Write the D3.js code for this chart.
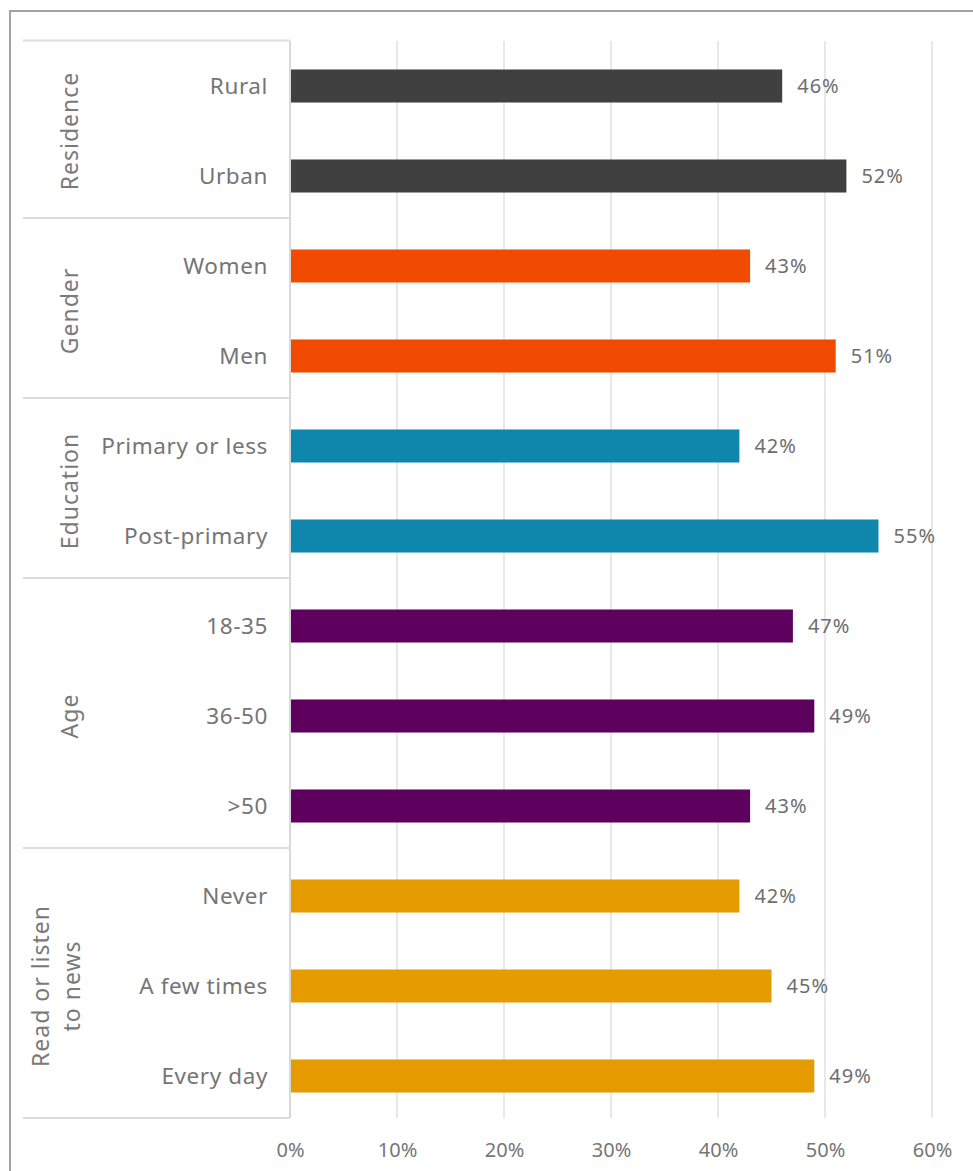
<!DOCTYPE html>
<html>
<head>
<meta charset="utf-8">
<script src="https://cdn.jsdelivr.net/npm/d3@7"></script>
<style>
  html, body { margin: 0; padding: 0; background: #fff; }
  svg { display: block; font-family: "Noto Sans", "DejaVu Sans", sans-serif; }
</style>
</head>
<body>
<svg id="chart" width="973" height="1171"></svg>
<script>
// Share of respondents by subgroup
const groups = ["Residence", "Gender", "Education", "Age", "Read or listen to news"];
const groupLines = [["Residence"], ["Gender"], ["Education"], ["Age"], ["Read or listen", "to news"]];
const groupColors = ["#404040", "#F04B00", "#0F87AD", "#5E005E", "#E59C00"];
const categories = ["Rural", "Urban", "Women", "Men", "Primary or less", "Post-primary",
                    "18-35", "36-50", ">50", "Never", "A few times", "Every day"];
const categoryGroup = [0, 0, 1, 1, 2, 2, 3, 3, 3, 4, 4, 4];
const values = [0.46, 0.52, 0.43, 0.51, 0.42, 0.55, 0.47, 0.49, 0.43, 0.42, 0.45, 0.49];
const tickValues = [0, 0.1, 0.2, 0.3, 0.4, 0.5, 0.6];

const svg = d3.select("#chart");

const plotLeft = 290, plotRight = 932, plotTop = 41, plotBottom = 1121;
const labelLeft = 23;

const x = d3.scaleLinear().domain([0, 0.6]).range([plotLeft, plotRight]);
const y = d3.scaleBand().domain(categories).range([plotTop, plotBottom])
  .paddingInner(0.633).paddingOuter(0.3165);
const step = y.step();
const rowTop = c => y(c) - (step - y.bandwidth()) / 2;

// outer frame
svg.append("path")
  .attr("d", `M10,1171 V11 H973`)
  .attr("fill", "none").attr("stroke", "#a3a3a3").attr("stroke-width", 2);

// vertical gridlines
svg.append("g").selectAll("line").data(tickValues.slice(1)).join("line")
  .attr("x1", d => x(d)).attr("x2", d => x(d))
  .attr("y1", plotTop).attr("y2", plotBottom - 3)
  .attr("stroke", "#e0e0e0").attr("stroke-width", 1.5);

// category axis line
svg.append("line")
  .attr("x1", plotLeft).attr("x2", plotLeft)
  .attr("y1", plotTop).attr("y2", plotBottom - 3)
  .attr("stroke", "#d9d9d9").attr("stroke-width", 2);

// group boundaries
const bounds = [];
groups.forEach((g, gi) => {
  const cats = categories.filter((c, i) => categoryGroup[i] === gi);
  const top = rowTop(cats[0]);
  const bottom = rowTop(cats[cats.length - 1]) + step;
  bounds.push({ gi, top, bottom });
});
const sepYs = [bounds[0].top - 0.5].concat(bounds.map(b => b.bottom - 3));
svg.append("g").selectAll("line").data(sepYs).join("line")
  .attr("x1", labelLeft).attr("x2", plotLeft)
  .attr("y1", d => d).attr("y2", d => d)
  .attr("stroke", "#dcdcdc").attr("stroke-width", 2);

// bars
svg.append("g").selectAll("rect").data(categories).join("rect")
  .attr("x", x(0) + 1)
  .attr("y", d => y(d))
  .attr("width", (d, i) => x(values[i]) - x(0) - 1)
  .attr("height", y.bandwidth())
  .attr("fill", (d, i) => groupColors[categoryGroup[i]]);

// value labels
svg.append("g").selectAll("text").data(categories).join("text")
  .attr("x", (d, i) => x(values[i]) + 15)
  .attr("y", d => y(d) + y.bandwidth() / 2)
  .attr("dy", "0.35em")
  .attr("font-size", 20)
  .attr("letter-spacing", 1)
  .attr("fill", "#6e6e6e")
  .text((d, i) => d3.format(".0%")(values[i]));

// category labels
svg.append("g").selectAll("text").data(categories).join("text")
  .attr("x", 268)
  .attr("y", d => y(d) + y.bandwidth() / 2)
  .attr("dy", "0.35em")
  .attr("text-anchor", "end")
  .attr("font-size", 22.5)
  .attr("letter-spacing", 0.6)
  .attr("fill", "#757575")
  .text(d => d);

// group labels, rotated
const gl = svg.append("g").selectAll("text").data(bounds).join("text")
  .attr("transform", b => {
    const cx = groupLines[b.gi].length > 1 ? 56 : 70;
    return `translate(${cx},${(b.top + b.bottom) / 2}) rotate(-90)`;
  })
  .attr("text-anchor", "middle")
  .attr("font-size", 23)
  .attr("letter-spacing", 1)
  .attr("fill", "#7a7a7a");
gl.each(function (b) {
  const lines = groupLines[b.gi];
  const n = lines.length;
  d3.select(this).selectAll("tspan").data(lines).join("tspan")
    .attr("x", 0)
    .attr("y", (d, i) => (i - (n - 1) / 2) * 31)
    .attr("dy", "0.35em")
    .text(d => d);
});

// value axis
const xAxis = d3.axisBottom(x).tickValues(tickValues).tickSize(0).tickPadding(0)
  .tickFormat(d3.format(".0%"));
const ax = svg.append("g").attr("transform", `translate(0,${1150})`).call(xAxis);
ax.select(".domain").remove();
ax.selectAll("text")
  .attr("dy", "0.35em")
  .attr("y", 0)
  .attr("font-size", 20)
  .attr("font-family", "\"Noto Sans\", sans-serif")
  .attr("fill", "#767676");
</script>
</body>
</html>
